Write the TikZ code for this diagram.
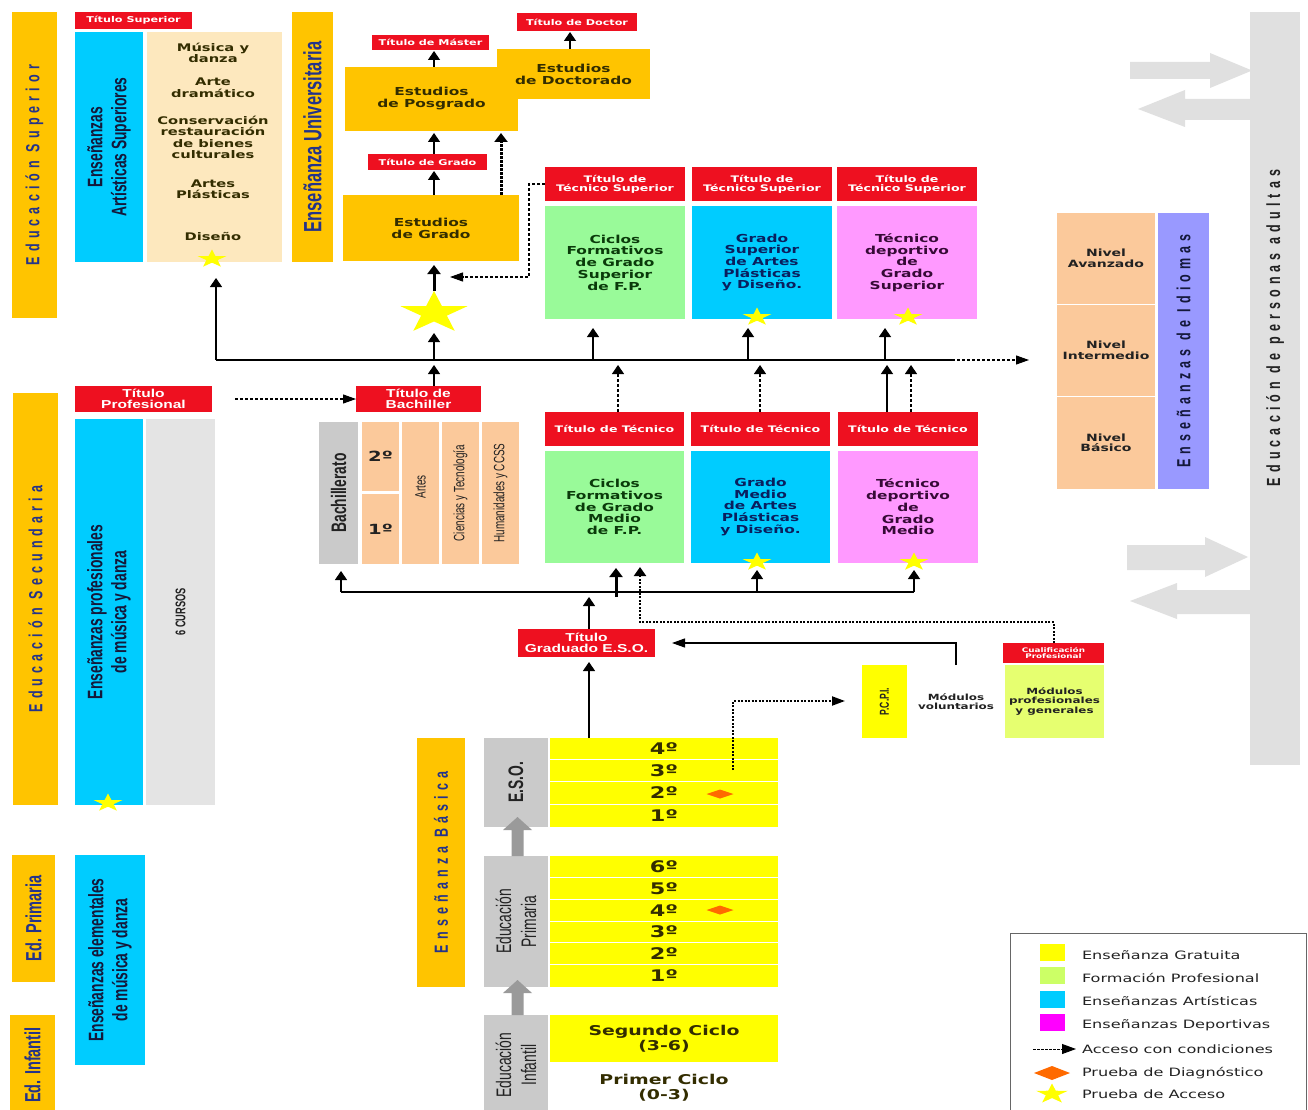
\documentclass[tikz,border=0pt]{standalone}
\usepackage{fontspec}
\setmainfont{DejaVu Sans}[FakeStretch=1.4]
\newfontfamily\cond{Liberation Sans}[FakeStretch=0.66]
\newfontfamily\spc{Liberation Sans}[FakeStretch=0.66,LetterSpace=27]
\newfontfamily\tfont{Liberation Sans}[FakeStretch=1.35]
\usetikzlibrary{shapes.geometric,arrows.meta}

\definecolor{orng}{HTML}{FFC400}
\definecolor{redc}{HTML}{EE1020}
\definecolor{skyb}{HTML}{00CCFF}
\definecolor{lgreen}{HTML}{99FA99}
\definecolor{lpink}{HTML}{FF99FF}
\definecolor{peach}{HTML}{FBC99B}
\definecolor{beige}{HTML}{FDE8BE}
\definecolor{greyb}{HTML}{CACACA}
\definecolor{lgreyc}{HTML}{E4E4E4}
\definecolor{adultg}{HTML}{E0E0E0}
\definecolor{yel}{HTML}{FFFF00}
\definecolor{lime}{HTML}{E6FF70}
\definecolor{limel}{HTML}{CCFF66}
\definecolor{magl}{HTML}{FF00FF}
\definecolor{lav}{HTML}{9999FF}
\definecolor{navy}{HTML}{24338A}
\definecolor{dnavy}{HTML}{14183A}
\definecolor{dolive}{HTML}{332D00}
\definecolor{dgreen}{HTML}{0A3A0A}
\definecolor{dblue}{HTML}{0A1F5E}
\definecolor{dpurp}{HTML}{360A36}
\definecolor{txtd}{HTML}{222222}
\definecolor{orgd}{HTML}{FF6A00}
\definecolor{arrg}{HTML}{9A9A9A}

\newcommand\fsz[2]{\fontsize{#1}{#2}\selectfont}
\newcommand\bx[7]{\node[#2, minimum width={(#5)-(#3)}, minimum height={(#6)-(#4)}] (#1) at ({((#3)+(#5))/2},{((#4)+(#6))/2}) {#7};}
\newcommand\vbx[7]{\node[#2, rotate=90, minimum width={(#6)-(#4)}, minimum height={(#5)-(#3)}] (#1) at ({((#3)+(#5))/2},{((#4)+(#6))/2}) {#7};}
\newcommand\sstar[4]{\begin{scope}[shift={(#2,#3)},xscale=1.6]\node[starsh, minimum size=#4] (#1) at (0,0) {};\end{scope}}
\newcommand\garrup[3]{\fill[arrg] ({#1-6},#3) -- ({#1-6},{#2+13}) -- ({#1-14.5},{#2+13}) -- (#1,#2) -- ({#1+14.5},{#2+13}) -- ({#1+6},{#2+13}) -- ({#1+6},#3) -- cycle;}

\tikzset{
 box/.style={rectangle, inner sep=0pt, outer sep=0pt, align=center},
 rt/.style={box, fill=redc, text=white, font=\bfseries\fsz{9}{9.3}},
 rts/.style={box, fill=redc, text=white, font=\bfseries\fsz{8}{8.5}},
 rtx/.style={box, fill=redc, text=white, font=\bfseries\fsz{6.3}{6.8}},
 rtc/.style={box, fill=redc, text=white, font=\tfont\bfseries\fsz{11.5}{10.5}},
 ob/.style={box, fill=orng, text=dolive, font=\bfseries\fsz{11}{12}},
 obar/.style={box, fill=orng, text=navy, font=\spc\bfseries\fsz{19}{19}},
 obarc/.style={box, fill=orng, text=navy, font=\cond\bfseries\fsz{22}{22}},
 obaru/.style={box, fill=orng, text=navy, font=\cond\bfseries\fsz{25}{25}},
 bluev/.style={box, fill=skyb, text=dnavy, font=\cond\bfseries\fsz{21}{24}},
 beigeb/.style={box, fill=beige},
 bt/.style={box, text=dolive, font=\bfseries\fsz{10.5}{11.5}},
 gb/.style={box, fill=lgreen, text=dgreen, font=\bfseries\fsz{11}{11.7}},
 bb/.style={box, fill=skyb, text=dblue, font=\bfseries\fsz{11}{11.7}},
 pb/.style={box, fill=lpink, text=dpurp, font=\bfseries\fsz{11}{11.7}},
 greyv/.style={box, fill=greyb, text=txtd, font=\cond\bfseries\fsz{21}{22}},
 greyvr/.style={box, fill=greyb, text=txtd, font=\cond\fsz{21}{25}},
 cursos/.style={box, fill=lgreyc, text=txtd, font=\cond\bfseries\fsz{14}{14}},
 peachb/.style={box, fill=peach, text=txtd, font=\bfseries\fsz{14}{14}},
 peachv/.style={box, fill=peach, text=txtd, font=\cond\fsz{15}{15}},
 nivel/.style={box, fill=peach, text=txtd, font=\bfseries\fsz{10}{10.5}},
 lavv/.style={box, fill=lav, text=dnavy, font=\spc\bfseries\fsz{19}{19}},
 adultb/.style={box, fill=adultg},
 adultt/.style={box, text=txtd, font=\spc\bfseries\fsz{19}{19}},
 yrow/.style={box, fill=yel, text=dolive, font=\bfseries\fsz{16}{16}},
 yrow2/.style={box, fill=yel, text=dolive, font=\bfseries\fsz{13.5}{15}},
 wrow/.style={box, fill=white, text=dolive, font=\bfseries\fsz{13.5}{15}},
 pcpiv/.style={box, fill=yel, text=txtd, font=\cond\bfseries\fsz{13}{13}},
 modw/.style={box, fill=white, text=txtd, font=\bfseries\fsz{8.5}{9.5}},
 modl/.style={box, fill=lime, text=txtd, font=\bfseries\fsz{8.5}{9.5}},
 legb/.style={box, draw=black!60, line width=0.8pt, fill=white},
 legt/.style={inner sep=0pt, outer sep=0pt, anchor=west, text=txtd, font=\fsz{11.5}{12}},
 starsh/.style={star, star points=5, star point ratio=2.6, fill=yel, inner sep=0pt, outer sep=0pt, transform shape},
 diam/.style={diamond, aspect=3, fill=orgd, inner sep=0pt, outer sep=0pt, minimum width=27pt, minimum height=9pt},
 ln/.style={line width=1.2pt},
 arrv/.style={line width=1.3pt, -{Triangle[width=12pt,length=9pt]}},
 arrh/.style={line width=1.2pt, -{Triangle[width=9pt,length=13pt]}},
 arrT/.style={line width=3pt, -{Triangle[width=13pt,length=9pt]}},
 darrv/.style={line width=1.1pt, dash pattern=on 3pt off 2pt, -{Triangle[width=12pt,length=9pt]}},
 darrh/.style={line width=1.1pt, dash pattern=on 3pt off 2pt, -{Triangle[width=9pt,length=13pt]}},
 dotv/.style={line width=3pt, dash pattern=on 2.5pt off 1.5pt, -{Triangle[width=13pt,length=9pt]}},
 dotv2/.style={line width=2pt, dash pattern=on 2pt off 1.5pt, -{Triangle[width=12pt,length=9pt]}},
 doth/.style={line width=2pt, dash pattern=on 2pt off 1.5pt, -{Triangle[width=9pt,length=13pt]}},
}

\begin{document}
\begin{tikzpicture}[x=1pt,y=-1pt]
\useasboundingbox (0,0) rectangle (1308,1110);
\fill[white] (0,0) rectangle (1308,1110);

% ---------- left bars ----------
\vbx{eSup}{obar}{12}{12}{57}{318}{Educación Superior}
\vbx{eSec}{obar}{13}{393}{58}{805}{Educación Secundaria}
\vbx{ePri}{obarc}{12}{855}{55}{982}{Ed. Primaria}
\vbx{eInf}{obarc}{10}{1015}{55}{1115}{Ed. Infantil}
\vbx{eUni}{obaru}{292}{12}{333}{262}{Enseñanza Universitaria}
\vbx{eBas}{obar}{417}{738}{465}{987}{Enseñanza Básica}

% ---------- artisticas superiores ----------
\bx{tSup}{rts}{75}{12}{192}{29}{Título Superior}
\vbx{eas}{bluev}{75}{32}{143}{262}{Enseñanzas\\Artísticas Superiores}
\bx{beige}{beigeb}{147}{32}{282}{262}{}
\node[bt] (mus) at (213,53) {Música y\\danza};
\node[bt] (arte) at (213,87.5) {Arte\\dramático};
\node[bt] (cons) at (213,137.5) {Conservación\\restauración\\de bienes\\culturales};
\node[bt] (plas) at (213,189) {Artes\\Plásticas};
\node[bt] (dis) at (213,236) {Diseño};
\sstar{stAS}{212}{259}{19}

% ---------- universidad ----------
\bx{tMas}{rts}{372}{35}{489}{50}{Título de Máster}
\bx{posg}{ob}{345}{67}{518}{131}{Estudios\\de Posgrado}
\bx{doct}{ob}{497}{49}{650}{99}{Estudios\\de Doctorado}
\bx{tDoc}{rts}{517}{13}{637}{31}{Título de Doctor}
\bx{tGra}{rts}{368}{154}{487}{170}{Título de Grado}
\bx{grado}{ob}{343}{195}{519}{261}{Estudios\\de Grado}
\sstar{bigStar}{434}{313}{44}

% ---------- tecnico superior ----------
\bx{tts1}{rt}{545}{167}{685}{201}{Título de\\Técnico Superior}
\bx{tts2}{rt}{692}{167}{832}{201}{Título de\\Técnico Superior}
\bx{tts3}{rt}{837}{167}{977}{201}{Título de\\Técnico Superior}
\bx{cfgs}{gb}{545}{206}{685}{319}{Ciclos\\Formativos\\de Grado\\Superior\\de F.P.}
\bx{gsap}{bb}{692}{206}{832}{319}{Grado\\Superior\\de Artes\\Plásticas\\y Diseño.}
\bx{tdgs}{pb}{837}{206}{977}{319}{Técnico\\deportivo\\de\\Grado\\Superior}
\sstar{stGS}{757}{317}{19}
\sstar{stTS}{908}{317}{19}

% ---------- idiomas / adultos ----------
\bx{nAv}{nivel}{1057}{213}{1155}{304}{Nivel\\Avanzado}
\bx{nIn}{nivel}{1057}{305}{1155}{396}{Nivel\\Intermedio}
\bx{nBa}{nivel}{1057}{397}{1155}{489}{Nivel\\Básico}
\vbx{idi}{lavv}{1158}{213}{1209}{489}{Enseñanzas de Idiomas}
\bx{adult}{adultb}{1250}{12}{1300}{765}{}
\node[adultt, rotate=90] (adultT) at (1275,328) {Educación de personas adultas};
\fill[adultg] (1130,62) -- (1210,62) -- (1210,53) -- (1252,70.5) -- (1210,88) -- (1210,79) -- (1130,79) -- cycle;
\fill[adultg] (1250,99) -- (1185,99) -- (1185,90) -- (1138,109) -- (1185,127) -- (1185,120) -- (1250,120) -- cycle;
\fill[adultg] (1127,545) -- (1205,545) -- (1205,537) -- (1248,557) -- (1205,577) -- (1205,570) -- (1127,570) -- cycle;
\fill[adultg] (1250,590) -- (1177,590) -- (1177,583) -- (1130,601) -- (1177,619) -- (1177,614) -- (1250,614) -- cycle;

% ---------- secundaria ----------
\bx{tPro}{rtc}{75}{386}{212}{412}{Título\\Profesional}
\vbx{epmd}{bluev}{75}{419}{143}{805}{Enseñanzas profesionales\\de música y danza}
\vbx{cursos}{cursos}{146}{419}{215}{805}{6 CURSOS}
\sstar{stPM}{108}{803}{19}
\bx{tBac}{rtc}{356}{386}{481}{412}{Título de\\Bachiller}
\vbx{bach}{greyv}{319}{422}{358}{564}{Bachillerato}
\bx{b2}{peachb}{362}{422}{399}{491}{2º}
\bx{b1}{peachb}{362}{494}{399}{564}{1º}
\vbx{bArt}{peachv}{402}{422}{439}{564}{\hspace*{12pt}Artes}
\vbx{bCyT}{peachv}{442}{422}{479}{564}{Ciencias y Tecnología}
\vbx{bHum}{peachv}{482}{422}{519}{564}{Humanidades y CCSS}

\bx{ttm1}{rt}{545}{412}{684}{446}{Título de Técnico}
\bx{ttm2}{rt}{691}{412}{830}{446}{Título de Técnico}
\bx{ttm3}{rt}{838}{412}{978}{446}{Título de Técnico}
\bx{cfgm}{gb}{545}{451}{684}{563}{Ciclos\\Formativos\\de Grado\\Medio\\de F.P.}
\bx{gmap}{bb}{691}{451}{830}{563}{Grado\\Medio\\de Artes\\Plásticas\\y Diseño.}
\bx{tdgm}{pb}{838}{451}{978}{563}{Técnico\\deportivo\\de\\Grado\\Medio}
\sstar{stGM}{757}{562}{19}
\sstar{stTM}{914}{562}{19}

\bx{tGES}{rtc}{518}{629}{655}{657}{Título\\Graduado E.S.O.}
\bx{cual}{rtx}{1003}{643}{1104}{663}{Cualificación\\Profesional}
\vbx{pcpi}{pcpiv}{862}{665}{907}{738}{P.C.P.I.}
\bx{modv}{modw}{907}{665}{1005}{738}{Módulos\\voluntarios}
\bx{modp}{modl}{1005}{665}{1104}{738}{Módulos\\profesionales\\y generales}

% ---------- enseñanza basica ----------
\vbx{eso}{greyv}{484}{738}{548}{827}{E.S.O.}
\bx{e4}{yrow}{550}{738}{778}{759}{4º}
\bx{e3}{yrow}{550}{760}{778}{781}{3º}
\bx{e2}{yrow}{550}{782}{778}{804}{2º}
\bx{e1}{yrow}{550}{805}{778}{827}{1º}
\vbx{prim}{greyvr}{484}{856}{548}{987}{Educación\\Primaria}
\bx{p6}{yrow}{550}{856}{778}{877}{6º}
\bx{p5}{yrow}{550}{878}{778}{899}{5º}
\bx{p4}{yrow}{550}{900}{778}{921}{4º}
\bx{p3}{yrow}{550}{922}{778}{942}{3º}
\bx{p2}{yrow}{550}{943}{778}{964}{2º}
\bx{p1}{yrow}{550}{965}{778}{987}{1º}
\vbx{infa}{greyvr}{484}{1015}{548}{1115}{Educación\\Infantil}
\bx{seg}{yrow2}{550}{1015}{778}{1062}{Segundo Ciclo\\(3-6)}
\bx{prm}{wrow}{550}{1063}{778}{1112}{Primer Ciclo\\(0-3)}
\node[diam] (dg1) at (720,794) {};
\node[diam] (dg2) at (720,910) {};
\garrup{517.5}{817}{856}
\garrup{517.5}{980}{1015}

\vbx{eemd}{bluev}{75}{855}{145}{1065}{Enseñanzas elementales\\de música y danza}

% ---------- connectors ----------
\coordinate (xg) at (434,0);
\coordinate (xd) at (501,0);
\coordinate (xdoc) at (570,0);
\draw[arrv] (posg.north -| xg) -- ([yshift=-1pt]tMas.south -| xg);
\draw[arrv] (doct.north -| xdoc) -- ([yshift=-1pt]tDoc.south -| xdoc);
\draw[arrv] (grado.north -| xg) -- ([yshift=-1pt]tGra.south -| xg);
\draw[arrv] (tGra.north -| xg) -- ([yshift=-2pt]posg.south -| xg);
\draw[dotv] (grado.north -| xd) -- ([yshift=-2pt]posg.south -| xd);
\draw[arrT] (bigStar.north) -- ([yshift=-4pt]grado.south -| xg);
\coordinate (dEnd) at (450,277);
\draw[darrh] (tts1.west) -- ++(-16,0) |- (dEnd);

\coordinate (hL) at (216,360);
\coordinate (hD) at (952,360);
\coordinate (hR) at (1029,360);
\coordinate (starBot) at (434,333);
\draw[ln] (hL) -- (hD);
\draw[darrh] (hD) -- (hR);
\draw[arrv, shorten >=16pt] (hL) -- (hL |- beige.south);
\draw[arrv] (hL -| xg) -- (starBot);
\coordinate (u1) at (593,360);
\coordinate (u2) at (748,360);
\coordinate (u3) at (885,360);
\draw[arrv, shorten >=9pt] (u1) -- (u1 |- cfgs.south);
\draw[arrv, shorten >=9pt] (u2) -- (u2 |- gsap.south);
\draw[arrv, shorten >=9pt] (u3) -- (u3 |- tdgs.south);
\draw[arrv, shorten >=5pt] (tBac.north -| xg) -- (hL -| xg);
\coordinate (d1) at (618,360);
\coordinate (d2) at (760,360);
\coordinate (s3) at (887,360);
\coordinate (d3) at (911,360);
\draw[darrv, shorten >=5pt] (ttm1.north -| d1) -- (d1);
\draw[darrv, shorten >=5pt] (ttm2.north -| d2) -- (d2);
\draw[arrv, shorten >=5pt] (ttm3.north -| s3) -- (s3);
\draw[darrv, shorten >=5pt] (ttm3.north -| d3) -- (d3);
\draw[darrh] ([xshift=23pt]tPro.east) -- (tBac.west);

\coordinate (lL) at (341,592);
\coordinate (lR) at (914,592);
\draw[ln] (lL) -- (lR);
\draw[arrv, shorten >=7pt] (lL) -- (lL |- b1.south);
\coordinate (l2) at (616,597);
\draw[arrT, shorten >=5pt] (l2) -- (l2 |- cfgm.south);
\coordinate (l3) at (757,592);
\draw[arrv, shorten >=7pt] (l3) -- (l3 |- gmap.south);
\draw[arrv, shorten >=7pt] (lR) -- (lR |- tdgm.south);
\coordinate (g1) at (589,0);
\draw[arrv, shorten >=5pt] (tGES.north -| g1) -- (lL -| g1);
\draw[arrv, shorten >=5pt] (e4.north -| g1) -- (tGES.south -| g1);
\draw[arrh, shorten >=17pt] (modv.north) |- (tGES.east);
\coordinate (dk) at (640,622);
\draw[dotv2, shorten >=4pt] (cual.north) |- (dk) -- (dk |- cfgm.south);
\coordinate (pd) at (733,770);
\coordinate (pe) at (845,701);
\draw[doth] (pd) |- (pe);

% ---------- legend ----------
\bx{legbox}{legb}{1010}{933}{1306}{1120}{}
\bx{lsq1}{box, fill=yel}{1040}{944}{1065}{961}{}
\bx{lsq2}{box, fill=limel}{1040}{967}{1065}{984}{}
\bx{lsq3}{box, fill=skyb}{1040}{991}{1065}{1008}{}
\bx{lsq4}{box, fill=magl}{1040}{1014}{1065}{1031}{}
\node[legt] (lt1) at (1082,955) {Enseñanza Gratuita};
\node[legt] (lt2) at (1082,978) {Formación Profesional};
\node[legt] (lt3) at (1082,1001) {Enseñanzas Artísticas};
\node[legt] (lt4) at (1082,1025) {Enseñanzas Deportivas};
\node[legt] (lt5) at (1082,1049) {Acceso con condiciones};
\node[legt] (lt6) at (1082,1073) {Prueba de Diagnóstico};
\node[legt] (lt7) at (1082,1094) {Prueba de Acceso};
\coordinate (la1) at (1033,1049);
\coordinate (la2) at (1076,1049);
\draw[line width=0.9pt, dash pattern=on 2.5pt off 1.5pt, -{Triangle[width=10pt,length=14pt]}] (la1) -- (la2);
\node[diam, minimum width=36pt, minimum height=14pt] (ldiam) at (1052,1073) {};
\sstar{lstar}{1052}{1094}{21}
\end{tikzpicture}
\end{document}
